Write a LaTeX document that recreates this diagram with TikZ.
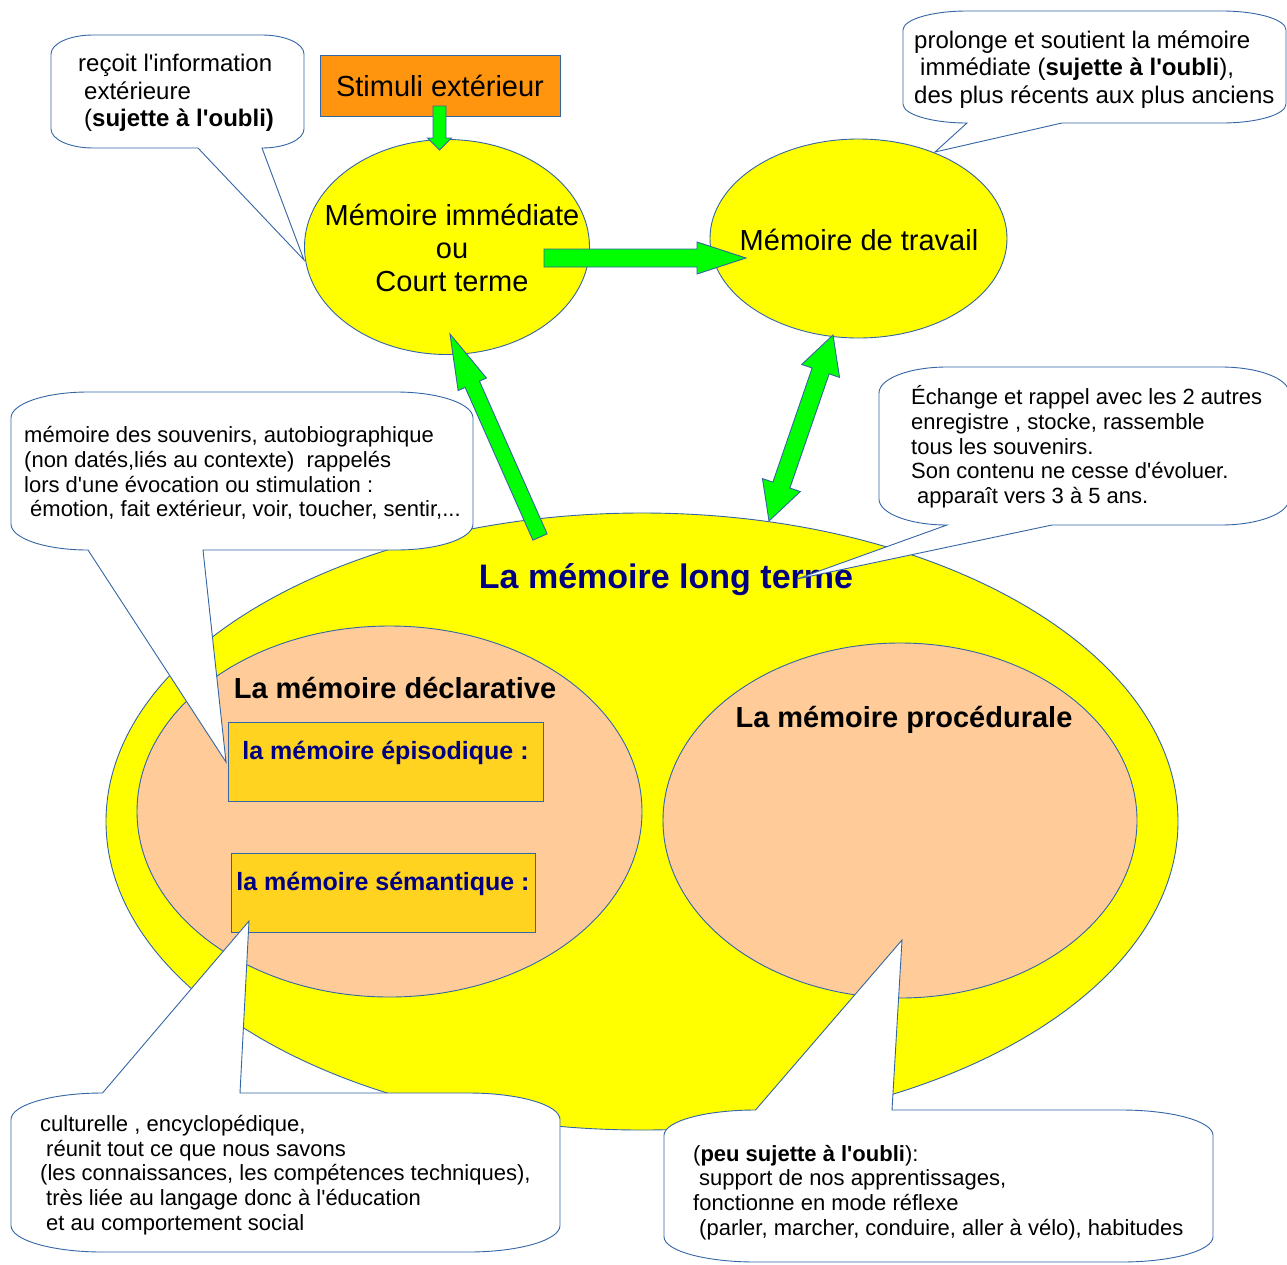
\documentclass[tikz,border=0pt]{standalone}
\usepackage{fontspec}
\setmainfont{Liberation Sans}[Ligatures=TeXOff]
\usetikzlibrary{shapes.geometric,calc}

\definecolor{bleuLO}{RGB}{52,101,164}
\definecolor{jaune}{RGB}{255,255,0}
\definecolor{peche}{RGB}{255,204,153}
\definecolor{dore}{RGB}{255,211,32}
\definecolor{orangeLO}{RGB}{255,149,14}
\definecolor{vert}{RGB}{0,255,0}
\definecolor{marine}{RGB}{0,0,128}

% fat arrow: from, to, half shaft, head length, half head
\newcommand\fleche[5]{%
  \path ($(#2)!#4!(#1)$) coordinate (hb);
  \draw[fleche] ($(#1)!#3!90:(#2)$) -- ($(hb)!#3!90:(#2)$) -- ($(hb)!#5!90:(#2)$) -- (#2) -- ($(hb)!#5!-90:(#2)$) -- ($(hb)!#3!-90:(#2)$) -- ($(#1)!#3!-90:(#2)$) -- cycle;}
\newcommand\doublefleche[5]{%
  \path ($(#1)!#4!(#2)$) coordinate (ha) ($(#2)!#4!(#1)$) coordinate (hb);
  \draw[fleche] ($(ha)!#3!90:(#2)$) -- ($(hb)!#3!90:(#2)$) -- ($(hb)!#5!90:(#2)$) -- (#2) -- ($(hb)!#5!-90:(#2)$) -- ($(hb)!#3!-90:(#2)$) -- ($(ha)!#3!-90:(#2)$) -- ($(ha)!#5!-90:(#2)$) -- (#1) -- ($(ha)!#5!90:(#2)$) -- cycle;}

\begin{document}
\begin{tikzpicture}[x=1pt,y=1pt,yscale=-1,xscale=1,
  bord/.style={draw=bleuLO,line width=0.9pt},
  fleche/.style={bord,fill=vert},
  bulle/.style={bord,fill=white},
  memo/.style={ellipse,bord,fill=jaune,inner sep=0pt},
  memotxt/.style={inner sep=0pt,align=center,font=\fontsize{29}{33}\selectfont},
  titre/.style={inner sep=0pt,font=\bfseries\fontsize{29}{33}\selectfont},
  boite/.style={bord,fill=dore,anchor=north,inner ysep=0pt,minimum height=79pt,text height=37pt,text depth=42pt,text=marine,font=\bfseries\fontsize{25}{29}\selectfont},
  txt/.style={inner sep=0pt,anchor=west,align=left,font=\fontsize{22}{24.7}\selectfont},
  grandtxt/.style={txt,font=\fontsize{24}{27.5}\selectfont}]
\useasboundingbox (0,0) rectangle (1287,1264);

%Shape: Ellipse [long terme]
\node[ellipse,bord,fill=jaune,minimum width=1072pt,minimum height=617pt,inner sep=0pt] (lt) at (642,821.5) {};
%Shape: Ellipse [declarative]
\node[ellipse,bord,fill=peche,minimum width=505pt,minimum height=371pt,inner sep=0pt] (decl) at (389.5,811.5) {};
%Shape: Ellipse [procedurale]
\node[ellipse,bord,fill=peche,minimum width=474pt,minimum height=355pt,inner sep=0pt] (proc) at (900,820.5) {};

% Text Node
\node[titre,text=marine,font=\bfseries\fontsize{34}{40}\selectfont] (lt-t) at (666,580) {La mémoire long terme};
% Text Node
\node[titre] (decl-t) at (395,688) {La mémoire déclarative};
% Text Node
\node[titre] (proc-t) at (904,720) {La mémoire procédurale};

%Shape: Rectangle
\node[boite,minimum width=315pt] (epi) at (385.5,722) {la mémoire épisodique :};
%Shape: Rectangle
\node[boite,minimum width=304pt] (sem) at (383,853) {la mémoire sémantique :};

%Shape: Rectangle [stimuli]
\node[bord,fill=orangeLO,minimum width=240pt,minimum height=61pt,font=\fontsize{29}{33}\selectfont] (stim) at (440,85.5) {Stimuli extérieur};
%Shape: Ellipse
\node[memo,minimum width=285pt,minimum height=215pt] (imm) at (447,247) {};
% Text Node
\node[memotxt] (imm-t) at (452,248) {Mémoire immédiate\\ou\\Court terme};
%Shape: Ellipse
\node[memo,minimum width=297pt,minimum height=199pt] (trav) at (858.5,238.5) {};
% Text Node
\node[memotxt] (trav-t) at (859,240) {Mémoire de travail};

%Arrows
\coordinate (f1a) at (439.5,106);
\coordinate (f1b) at (439.5,150);
\coordinate (f2a) at (544,258);
\coordinate (f2b) at (746,258);
\coordinate (f3a) at (540,537);
\coordinate (f3b) at (450,334);
\coordinate (f4a) at (769,521);
\coordinate (f4b) at (833,335);
\fleche{f1a}{f1b}{6.5pt}{12pt}{12pt}
\fleche{f2a}{f2b}{9pt}{49pt}{16pt}
\fleche{f3a}{f3b}{7.8pt}{55pt}{15.5pt}
\doublefleche{f4a}{f4b}{9pt}{38pt}{20pt}

%Shape: Callout [immediate]
\draw[bulle] (93,35) -- (262,35) .. controls (285.2,35) and (304,43.5) .. (304,54) -- (304,129) .. controls (304,139.5) and (285.2,148) .. (262,148) -- (304,260) -- (198,148) -- (93,148) .. controls (69.8,148) and (51,139.5) .. (51,129) -- (51,54) .. controls (51,43.5) and (69.8,35) .. (93,35) -- cycle;
% Text Node
\node[grandtxt] (b-imm) at (78,93) {reçoit l'information\\\hspace*{6pt}extérieure\\\hspace*{6pt}(\textbf{sujette à l'oubli)}};

%Shape: Callout [travail]
\draw[bulle] (967,11) -- (1222,11) .. controls (1257.3,11) and (1286,19.5) .. (1286,30) -- (1286,104) .. controls (1286,114.5) and (1257.3,123) .. (1222,123) -- (1062,123) -- (935,152) -- (967,123) .. controls (931.7,123) and (903,114.5) .. (903,104) -- (903,30) .. controls (903,19.5) and (931.7,11) .. (967,11) -- cycle;
% Text Node
\node[grandtxt] (b-trav) at (914,69.5) {prolonge et soutient la mémoire\\\hspace*{6pt}immédiate (\textbf{sujette à l'oubli}),\\des plus récents aux plus anciens};

%Shape: Callout [episodique]
\draw[bulle] (88,392) -- (396,392) .. controls (438.5,392) and (473,403.6) .. (473,418) -- (473,524) .. controls (473,538.4) and (438.5,550) .. (396,550) -- (203,550) -- (226,762) -- (88,550) .. controls (45.5,550) and (11,538.4) .. (11,524) -- (11,418) .. controls (11,403.6) and (45.5,392) .. (88,392) -- cycle;
% Text Node
\node[txt] (b-epi) at (24,473) {mémoire des souvenirs, autobiographique\\(non datés,liés au contexte)\ \ rappelés\\lors d'une évocation ou stimulation :\\\hspace*{6pt}émotion, fait extérieur, voir, toucher, sentir,...};

%Shape: Callout [long terme]
\draw[bulle] (947,367) -- (1221,367) .. controls (1258.6,367) and (1289,378.6) .. (1289,393) -- (1289,499) .. controls (1289,513.4) and (1258.6,525) .. (1221,525) -- (1052,525) -- (797,579) -- (947,525) .. controls (909.4,525) and (879,513.4) .. (879,499) -- (879,393) .. controls (879,378.6) and (909.4,367) .. (947,367) -- cycle;
% Text Node
\node[txt] (b-lt) at (911,447) {Échange et rappel avec les 2 autres\\enregistre , stocke, rassemble\\tous les souvenirs.\\Son contenu ne cesse d'évoluer.\\\hspace*{6pt}apparaît vers 3 à 5 ans.};

%Shape: Callout [semantique]
\draw[bulle] (102.5,1093) -- (249,921) -- (240,1093) -- (468.5,1093) .. controls (519,1093) and (560,1104.9) .. (560,1119.5) -- (560,1225.5) .. controls (560,1240.1) and (519,1252) .. (468.5,1252) -- (102.5,1252) .. controls (52,1252) and (11,1240.1) .. (11,1225.5) -- (11,1119.5) .. controls (11,1104.9) and (52,1093) .. (102.5,1093) -- cycle;
% Text Node
\node[txt] (b-sem) at (40,1175) {culturelle , encyclopédique,\\\hspace*{6pt}réunit tout ce que nous savons\\(les connaissances, les compétences techniques),\\\hspace*{6pt}très liée au langage donc à l'éducation\\\hspace*{6pt}et au comportement social};

%Shape: Callout [procedurale]
\draw[bulle] (755.5,1110) -- (902,940) -- (892,1110) -- (1121.5,1110) .. controls (1172,1110) and (1213,1121.3) .. (1213,1135.3) -- (1213,1236.7) .. controls (1213,1250.7) and (1172,1262) .. (1121.5,1262) -- (755.5,1262) .. controls (705,1262) and (664,1250.7) .. (664,1236.7) -- (664,1135.3) .. controls (664,1121.3) and (705,1110) .. (755.5,1110) -- cycle;
% Text Node
\node[txt] (b-proc) at (693,1192.5) {(\textbf{peu sujette à l'oubli}):\\\hspace*{6pt}support de nos apprentissages,\\fonctionne en mode réflexe\\\hspace*{6pt}(parler, marcher, conduire, aller à vélo), habitudes};
\end{tikzpicture}
\end{document}
